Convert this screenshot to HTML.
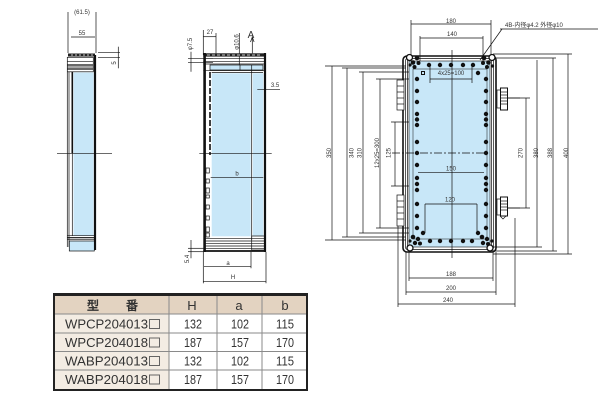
<!DOCTYPE html>
<html><head><meta charset="utf-8">
<style>
html,body{margin:0;padding:0;background:#fff;}
svg{display:block;}
text{font-family:"Liberation Sans","Noto Sans CJK JP",sans-serif;fill:#333;}
.d{font-size:6px;}
</style></head>
<body>
<svg width="600" height="400" viewBox="0 0 600 400" xmlns="http://www.w3.org/2000/svg">
<!-- ============ LEFT SIDE VIEW ============ -->
<g stroke="#111" fill="none" stroke-width="0.7">
  <line x1="68" y1="12" x2="68" y2="53"/>
  <line x1="96" y1="12" x2="96" y2="53"/>
  <line x1="71" y1="37" x2="95" y2="37"/>
  <!-- lid -->
  <rect x="68" y="53.5" width="27" height="3" fill="#222" stroke="none"/>
  <line x1="71" y1="55" x2="93" y2="55" stroke="#fff" stroke-dasharray="2 2"/>
  <rect x="67.3" y="57.3" width="26" height="14.5"/>
  <line x1="67.3" y1="61.7" x2="93.3" y2="61.7"/>
  <line x1="67.3" y1="65" x2="93.3" y2="65" stroke-width="1.2"/>
  <line x1="67.3" y1="67" x2="93.3" y2="67"/>
  <line x1="67.3" y1="69" x2="93.3" y2="69" stroke-width="1.2"/>
  <!-- body -->
  <rect x="73.5" y="72.5" width="20" height="163" fill="#c8e7f8" stroke="none"/>
  <line x1="67.3" y1="72" x2="67.3" y2="247"/>
  <line x1="69" y1="72" x2="69" y2="247"/>
  <line x1="72.3" y1="72" x2="72.3" y2="153" stroke-width="1.6"/>
  <line x1="72.3" y1="153" x2="72.3" y2="236"/>
  <line x1="95" y1="55" x2="95" y2="250" stroke-width="2.2"/>
  <line x1="57" y1="153.3" x2="112" y2="153.3"/>
  <line x1="67" y1="235.7" x2="95" y2="235.7"/>
  <line x1="67" y1="237.7" x2="95" y2="237.7" stroke-width="1.2"/>
  <line x1="67" y1="239.3" x2="95" y2="239.3"/>
  <rect x="69.3" y="241" width="25" height="10" fill="#c8e7f8"/>
  <!-- dim 5 -->
  <line x1="98" y1="52.7" x2="120" y2="52.7"/>
  <line x1="98" y1="57.3" x2="120" y2="57.3"/>
  <line x1="118.3" y1="46.7" x2="118.3" y2="68.3"/>
</g>
<text class="d" x="82" y="14" text-anchor="middle">(61.5)</text>
<text class="d" x="82" y="35" text-anchor="middle" font-size="7">55</text>
<text class="d" transform="rotate(-90 114 63)" x="114" y="65" text-anchor="middle">5</text>

<!-- ============ MIDDLE VIEW ============ -->
<g stroke="#111" fill="none" stroke-width="0.7">
  <line x1="203.3" y1="30" x2="203.3" y2="55"/>
  <line x1="216" y1="33" x2="216" y2="55"/>
  <line x1="203.3" y1="36.7" x2="216" y2="36.7"/>
  <line x1="191" y1="51.7" x2="191" y2="71.7"/>
  <line x1="188" y1="58.3" x2="213" y2="58.3"/>
  <line x1="188" y1="62.3" x2="213" y2="62.3"/>
  <line x1="239.3" y1="33" x2="239.3" y2="70"/>
  <line x1="252.3" y1="38" x2="252.3" y2="53.3"/>
  <path d="M250.5 42 L252.3 37 L254.1 42" />
  <!-- top lid -->
  <rect x="203.3" y="53.3" width="62.7" height="3.3" fill="#222" stroke="none"/>
  <line x1="207" y1="55" x2="262" y2="55" stroke="#fff" stroke-dasharray="3 2"/>
  <line x1="203.3" y1="58.3" x2="266" y2="58.3"/>
  <line x1="203.3" y1="61.7" x2="266" y2="61.7"/>
  <line x1="203.3" y1="64" x2="266" y2="64"/>
  <rect x="210" y="65" width="53" height="5" fill="#c8e7f8"/>
  <line x1="240" y1="65" x2="240" y2="70"/>
  <line x1="251.7" y1="65" x2="251.7" y2="70"/>
  <line x1="203.3" y1="70.7" x2="266" y2="70.7"/>
  <!-- body -->
  <rect x="211.7" y="73.3" width="39" height="163" fill="#c8e7f8" stroke="none"/>
  <rect x="252.7" y="73.3" width="10.6" height="163" fill="#c8e7f8" stroke="none"/>
  <line x1="204.6" y1="53" x2="204.6" y2="252" stroke-width="2.6"/>
  <line x1="265" y1="53" x2="265" y2="252" stroke-width="2.2"/>
  <line x1="251.7" y1="70" x2="251.7" y2="240"/>
  <line x1="210" y1="72" x2="210" y2="155" stroke-width="1.6" stroke-dasharray="6 2"/>
  <line x1="199.3" y1="153.3" x2="271.7" y2="153.3"/>
  <line x1="211.7" y1="72.5" x2="263" y2="72.5"/>
  <!-- small squares -->
  <rect x="206" y="168" width="3.3" height="5"/>
  <rect x="206" y="179" width="3.3" height="4"/>
  <rect x="206" y="188" width="3.3" height="5"/>
  <rect x="206" y="195" width="3.3" height="3"/>
  <rect x="206" y="205" width="3.3" height="4"/>
  <rect x="206" y="216" width="3.3" height="4"/>
  <rect x="206" y="227" width="3.3" height="5"/>
  <rect x="206" y="233" width="3.3" height="4"/>
  <!-- bottom -->
  <line x1="205" y1="238.3" x2="265" y2="238.3"/>
  <line x1="205" y1="241" x2="265" y2="241"/>
  <line x1="205" y1="243.3" x2="265" y2="243.3"/>
  <line x1="205" y1="246" x2="265" y2="246"/>
  <line x1="205" y1="248.3" x2="265" y2="248.3"/>
  <rect x="251.7" y="236" width="13.3" height="14"/>
  <line x1="203.3" y1="251" x2="266" y2="251" stroke-width="1.8"/>
  <line x1="257.3" y1="89.3" x2="280" y2="89.3"/>
  <line x1="210.7" y1="177.3" x2="263.3" y2="177.3"/>
  <!-- bottom dims -->
  <line x1="191" y1="240" x2="191" y2="258.3"/>
  <line x1="188" y1="248.3" x2="204" y2="248.3"/>
  <line x1="188" y1="251.7" x2="204" y2="251.7"/>
  <line x1="204" y1="266.7" x2="251" y2="266.7"/>
  <line x1="251" y1="251.7" x2="251" y2="268.3"/>
  <line x1="203.3" y1="281.7" x2="266" y2="281.7"/>
  <line x1="203.3" y1="252" x2="203.3" y2="283.3"/>
  <line x1="266" y1="252" x2="266" y2="283.3"/>
</g>
<text class="d" x="210" y="34" text-anchor="middle" font-size="7">27</text>
<text class="d" transform="rotate(-90 190 44)" x="190" y="46" text-anchor="middle">φ7.5</text>
<text class="d" transform="rotate(-90 236.5 42)" x="236.5" y="44" text-anchor="middle">φ10.6</text>
<text x="251" y="38" text-anchor="middle" font-size="10">A</text>
<text class="d" x="275" y="87" text-anchor="middle">3.5</text>
<text class="d" x="237" y="175.5" text-anchor="middle" font-size="7">b</text>
<text class="d" transform="rotate(-90 187 259)" x="187" y="261" text-anchor="middle">5.4</text>
<text class="d" x="228" y="265" text-anchor="middle" font-size="7">a</text>
<text class="d" x="233" y="279" text-anchor="middle" font-size="7">H</text>

<!-- ============ RIGHT VIEW ============ -->
<g stroke="#111" fill="none" stroke-width="0.7">
  <!-- top dims -->
  <line x1="411" y1="20" x2="411" y2="57"/>
  <line x1="491" y1="20" x2="491" y2="57"/>
  <line x1="411" y1="24" x2="491" y2="24"/>
  <line x1="420" y1="36" x2="420" y2="62"/>
  <line x1="483" y1="36" x2="483" y2="62"/>
  <line x1="420" y1="38" x2="483" y2="38"/>
  <line x1="500" y1="29" x2="598" y2="29"/>
  <line x1="502" y1="29" x2="480" y2="60"/>
  <!-- left dims -->
  <line x1="325" y1="66" x2="406" y2="66"/>
  <line x1="342" y1="68" x2="406" y2="68"/>
  <line x1="359" y1="72" x2="410" y2="72"/>
  <line x1="376" y1="79" x2="415" y2="79"/>
  <line x1="325" y1="240" x2="406" y2="240"/>
  <line x1="342" y1="237" x2="406" y2="237"/>
  <line x1="359" y1="233" x2="410" y2="233"/>
  <line x1="376" y1="228" x2="415" y2="228"/>
  <line x1="332" y1="66" x2="332" y2="240"/>
  <line x1="347" y1="68" x2="347" y2="237"/>
  <line x1="363" y1="72" x2="363" y2="233"/>
  <line x1="380" y1="79" x2="380" y2="228"/>
  <line x1="391" y1="122" x2="417" y2="122"/>
  <line x1="391" y1="186" x2="417" y2="186"/>
  <line x1="395" y1="122" x2="395" y2="186"/>
  <!-- right dims -->
  <line x1="493" y1="54" x2="572" y2="54"/>
  <line x1="493" y1="58" x2="556" y2="58"/>
  <line x1="493" y1="247" x2="542" y2="247"/>
  <line x1="493" y1="251" x2="557" y2="251"/>
  <line x1="493" y1="254" x2="572" y2="254"/>
  <line x1="505" y1="98" x2="530" y2="98"/>
  <line x1="505" y1="208" x2="530" y2="208"/>
  <line x1="526" y1="98" x2="526" y2="208"/>
  <line x1="537" y1="60" x2="537" y2="247"/>
  <line x1="553" y1="58" x2="553" y2="251"/>
  <line x1="568" y1="54" x2="568" y2="254"/>
  <!-- bottom dims -->
  <line x1="409" y1="250" x2="409" y2="281"/>
  <line x1="493" y1="250" x2="493" y2="281"/>
  <line x1="406" y1="252" x2="406" y2="295"/>
  <line x1="496" y1="252" x2="496" y2="295"/>
  <line x1="398" y1="226" x2="398" y2="307"/>
  <line x1="515" y1="218" x2="515" y2="307"/>
  <line x1="409" y1="278" x2="493" y2="278"/>
  <line x1="406" y1="292" x2="496" y2="292"/>
  <line x1="398" y1="304" x2="515" y2="304"/>

  <!-- body -->
  <rect x="409" y="61" width="81" height="186" fill="#c8e7f8" stroke-width="0.6"/>
  <rect x="403" y="56" width="93" height="196" rx="4" stroke-width="1.6"/>
  <rect x="405.5" y="58.5" width="88" height="191" rx="2" stroke-width="0.7"/>
  <line x1="407.5" y1="60" x2="407.5" y2="248"/>
  <line x1="491.5" y1="60" x2="491.5" y2="248"/>
  <rect x="413" y="69" width="74" height="170" stroke-width="0.5"/>
  <!-- center lines -->
  <line x1="452" y1="50" x2="452" y2="258"/>
  <line x1="392" y1="153" x2="490" y2="153" stroke-dasharray="8 2 2 2"/>
  <!-- inner dims -->
  <line x1="430" y1="65" x2="430" y2="83"/>
  <line x1="472" y1="65" x2="472" y2="83"/>
  <line x1="430" y1="79" x2="472" y2="79"/>
  <line x1="418" y1="172.3" x2="484" y2="172.3"/>
  <line x1="425" y1="204" x2="477" y2="204"/>
  <line x1="425" y1="204" x2="425" y2="233"/>
  <line x1="477" y1="204" x2="477" y2="233"/>
  <!-- left glands -->
  <rect x="397" y="80" width="7" height="30" fill="#fff"/>
  <line x1="397" y1="86" x2="404" y2="86"/>
  <line x1="397" y1="92" x2="404" y2="92"/>
  <line x1="397" y1="98" x2="404" y2="98"/>
  <line x1="397" y1="104" x2="404" y2="104"/>
  <rect x="397" y="195" width="7" height="31" fill="#fff"/>
  <line x1="397" y1="201" x2="404" y2="201"/>
  <line x1="397" y1="207" x2="404" y2="207"/>
  <line x1="397" y1="213" x2="404" y2="213"/>
  <line x1="397" y1="219" x2="404" y2="219"/>
  <!-- right glands -->
  <rect x="497" y="90" width="3.5" height="18" fill="#fff"/>
  <rect x="500.5" y="88" width="7" height="22" fill="#fff" stroke-width="1"/>
  <line x1="501" y1="92" x2="507" y2="92"/>
  <line x1="501" y1="95" x2="507" y2="95"/>
  <line x1="501" y1="98" x2="507" y2="98"/>
  <line x1="501" y1="101" x2="507" y2="101"/>
  <line x1="501" y1="104" x2="507" y2="104"/>
  <line x1="508" y1="98" x2="520" y2="98"/>
  <rect x="497" y="199" width="3.5" height="16" fill="#fff"/>
  <rect x="500.5" y="197" width="7" height="19" fill="#fff" stroke-width="1"/>
  <line x1="501" y1="201" x2="507" y2="201"/>
  <line x1="501" y1="204" x2="507" y2="204"/>
  <line x1="501" y1="207" x2="507" y2="207"/>
  <line x1="501" y1="210" x2="507" y2="210"/>
  <path d="M500 216 L503 219 L506 216"/>
  <line x1="508" y1="208" x2="520" y2="208"/>
  <!-- corner rings -->
  <circle cx="409.5" cy="57.5" r="3" fill="#fff" stroke-width="1.3"/>
  <circle cx="492" cy="57.5" r="3" fill="#fff" stroke-width="1.3"/>
  <circle cx="410" cy="248" r="3" fill="#fff" stroke-width="1.3"/>
  <circle cx="490" cy="248" r="3" fill="#fff" stroke-width="1.3"/>
  <rect x="421.5" y="71.5" width="3" height="3" stroke-width="1"/>
</g>
<g fill="#111">
  <!-- top row -->
  <circle cx="429" cy="65" r="2.2"/><circle cx="440" cy="65" r="2.2"/><circle cx="451" cy="65" r="2.2"/><circle cx="463" cy="65" r="2.2"/><circle cx="473" cy="65" r="2.2"/>
  <circle cx="478" cy="73" r="2.2"/>
  <!-- bottom row -->
  <circle cx="430" cy="241" r="2.2"/><circle cx="440" cy="241" r="2.2"/><circle cx="451" cy="241" r="2.2"/><circle cx="463" cy="241" r="2.2"/><circle cx="472" cy="241" r="2.2"/>
  <circle cx="423" cy="233" r="2.2"/><circle cx="478" cy="233" r="2.2"/>
  <!-- left column -->
  <circle cx="417" cy="79" r="2.2"/><circle cx="417" cy="91" r="2.2"/><circle cx="417" cy="102" r="2.2"/><circle cx="417" cy="114" r="2.2"/><circle cx="417" cy="119.5" r="2.2"/><circle cx="417" cy="125" r="2.2"/><circle cx="417" cy="142" r="2.2"/><circle cx="417" cy="153" r="2.2"/><circle cx="417" cy="165" r="2.2"/><circle cx="417" cy="178" r="2.2"/><circle cx="417" cy="184" r="2.2"/><circle cx="417" cy="190" r="2.2"/><circle cx="417" cy="204" r="2.2"/><circle cx="417" cy="216" r="2.2"/><circle cx="417" cy="228" r="2.2"/>
  <!-- right column -->
  <circle cx="486" cy="79" r="2.2"/><circle cx="486" cy="91" r="2.2"/><circle cx="486" cy="102" r="2.2"/><circle cx="486" cy="114" r="2.2"/><circle cx="486" cy="119.5" r="2.2"/><circle cx="486" cy="125" r="2.2"/><circle cx="486" cy="142" r="2.2"/><circle cx="486" cy="153" r="2.2"/><circle cx="486" cy="165" r="2.2"/><circle cx="486" cy="178" r="2.2"/><circle cx="486" cy="184" r="2.2"/><circle cx="486" cy="190" r="2.2"/><circle cx="486" cy="204" r="2.2"/><circle cx="486" cy="216" r="2.2"/><circle cx="486" cy="228" r="2.2"/>
  <!-- corner clusters -->
  <circle cx="417" cy="58" r="2.3"/><circle cx="413" cy="62.5" r="2.3"/><circle cx="418.5" cy="63" r="2"/><circle cx="414.5" cy="67" r="2"/><circle cx="410" cy="65" r="1.6"/>
  <circle cx="484" cy="58" r="2.3"/><circle cx="488.5" cy="62.5" r="2.3"/><circle cx="483" cy="63" r="2"/><circle cx="487" cy="67" r="2"/><circle cx="492.5" cy="66" r="1.6"/>
  <circle cx="413" cy="237" r="2.3"/><circle cx="418" cy="239" r="2.2"/><circle cx="415" cy="243" r="2.2"/><circle cx="420" cy="243.5" r="2"/><circle cx="410" cy="241" r="1.6"/>
  <circle cx="482" cy="237" r="2.3"/><circle cx="487" cy="239" r="2.2"/><circle cx="483" cy="243" r="2.2"/><circle cx="488" cy="244" r="2"/><circle cx="492" cy="241" r="1.6"/>
</g>
<text class="d" x="451" y="23" text-anchor="middle">180</text>
<text class="d" x="452" y="36" text-anchor="middle">140</text>
<text class="d" x="505" y="27" font-size="6.3">4B-内径φ4.2 外径φ10</text>
<text class="d" x="451" y="75" text-anchor="middle" font-size="5.5">4x25=100</text>
<text class="d" x="451" y="170.5" text-anchor="middle">150</text>
<text class="d" x="450" y="201.5" text-anchor="middle">120</text>
<text class="d" x="451" y="276" text-anchor="middle">188</text>
<text class="d" x="451" y="290" text-anchor="middle">200</text>
<text class="d" x="448" y="302" text-anchor="middle">240</text>
<text class="d" transform="rotate(-90 329 153)" x="329" y="155" text-anchor="middle">350</text>
<text class="d" transform="rotate(-90 351.5 153)" x="351.5" y="155" text-anchor="middle">340</text>
<text class="d" transform="rotate(-90 359.5 153)" x="359.5" y="155" text-anchor="middle">310</text>
<text class="d" transform="rotate(-90 377 153)" x="377" y="155" text-anchor="middle">12x25=300</text>
<text class="d" transform="rotate(-90 388.5 153)" x="388.5" y="155" text-anchor="middle">125</text>
<text class="d" transform="rotate(-90 520.5 153)" x="520.5" y="155" text-anchor="middle">270</text>
<text class="d" transform="rotate(-90 536 153)" x="536" y="155" text-anchor="middle">380</text>
<text class="d" transform="rotate(-90 550 153)" x="550" y="155" text-anchor="middle">388</text>
<text class="d" transform="rotate(-90 566 153)" x="566" y="155" text-anchor="middle">400</text>

<!-- ============ TABLE ============ -->
<g>
  <rect x="54" y="296" width="252" height="18" fill="#e3d3c1"/>
  <rect x="54" y="314" width="115" height="75" fill="#f3ece3"/>
  <g stroke="#8a8a8a" stroke-width="1">
    <line x1="54" y1="314" x2="306" y2="314"/>
    <line x1="54" y1="333" x2="306" y2="333"/>
    <line x1="54" y1="351.5" x2="306" y2="351.5"/>
    <line x1="54" y1="370" x2="306" y2="370"/>
    <line x1="169" y1="296" x2="169" y2="389"/>
    <line x1="217" y1="296" x2="217" y2="389"/>
    <line x1="262" y1="296" x2="262" y2="389"/>
  </g>
  <rect x="53" y="293" width="255" height="3" fill="#222"/>
  <rect x="53" y="293" width="2" height="98" fill="#222"/>
  <rect x="306" y="293" width="2" height="98" fill="#222"/>
  <rect x="53" y="389" width="255" height="2" fill="#222"/>
</g>
<g font-size="13">
  <text x="93" y="310" text-anchor="middle" font-size="12.5" font-weight="bold" fill="#333">型</text>
  <text x="132" y="310" text-anchor="middle" font-size="12.5" font-weight="bold" fill="#333">番</text>
  <text x="192" y="310" text-anchor="middle" font-size="13">H</text>
  <text x="239" y="310" text-anchor="middle" font-size="13">a</text>
  <text x="285" y="310" text-anchor="middle" font-size="13">b</text>

  <text x="65" y="328.5" font-size="12.5" textLength="83" lengthAdjust="spacingAndGlyphs">WPCP204013</text>
  <text x="65" y="347" font-size="12.5" textLength="83" lengthAdjust="spacingAndGlyphs">WPCP204018</text>
  <text x="65" y="365.5" font-size="12.5" textLength="83" lengthAdjust="spacingAndGlyphs">WABP204013</text>
  <text x="65" y="384" font-size="12.5" textLength="83" lengthAdjust="spacingAndGlyphs">WABP204018</text>
</g>
<g fill="none" stroke="#555" stroke-width="0.9">
  <rect x="149.5" y="319.5" width="10" height="9"/>
  <rect x="149.5" y="338" width="10" height="9"/>
  <rect x="149.5" y="356.5" width="10" height="9"/>
  <rect x="149.5" y="375" width="10" height="9"/>
</g>
<g font-size="12.5" text-anchor="middle">
  <text x="193" y="328.5" textLength="18" lengthAdjust="spacingAndGlyphs">132</text>
  <text x="240" y="328.5" textLength="18" lengthAdjust="spacingAndGlyphs">102</text>
  <text x="285" y="328.5" textLength="18" lengthAdjust="spacingAndGlyphs">115</text>
  <text x="193" y="347" textLength="18" lengthAdjust="spacingAndGlyphs">187</text>
  <text x="240" y="347" textLength="18" lengthAdjust="spacingAndGlyphs">157</text>
  <text x="285" y="347" textLength="18" lengthAdjust="spacingAndGlyphs">170</text>
  <text x="193" y="365.5" textLength="18" lengthAdjust="spacingAndGlyphs">132</text>
  <text x="240" y="365.5" textLength="18" lengthAdjust="spacingAndGlyphs">102</text>
  <text x="285" y="365.5" textLength="18" lengthAdjust="spacingAndGlyphs">115</text>
  <text x="193" y="384" textLength="18" lengthAdjust="spacingAndGlyphs">187</text>
  <text x="240" y="384" textLength="18" lengthAdjust="spacingAndGlyphs">157</text>
  <text x="285" y="384" textLength="18" lengthAdjust="spacingAndGlyphs">170</text>
</g>
</svg>
</body></html>
